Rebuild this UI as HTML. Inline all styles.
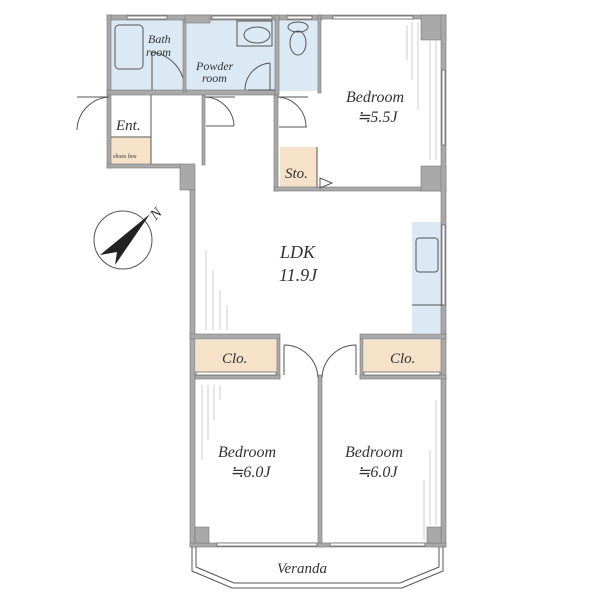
<!DOCTYPE html>
<html><head><meta charset="utf-8"><style>
html,body{margin:0;padding:0;background:#fff;width:600px;height:600px;overflow:hidden}
text{font-family:"Liberation Serif",serif;font-style:italic;fill:#333}
</style></head><body>
<svg width="600" height="600" viewBox="0 0 600 600" xmlns="http://www.w3.org/2000/svg">
<!-- room fills -->
<g stroke="none">
<rect x="111" y="20" width="72" height="71" fill="#dbe9f4"/>
<rect x="185" y="20" width="90" height="71" fill="#dbe9f4"/>
<rect x="279" y="20" width="41" height="71" fill="#dbe9f4"/>
<rect x="412" y="222" width="31" height="111" fill="#dbe9f4"/>
<rect x="111" y="137" width="40" height="27" fill="#f6e2c8"/>
<rect x="280" y="147" width="37" height="40" fill="#f6e2c8"/>
<rect x="196" y="340" width="81" height="35" fill="#f6e2c8"/>
<rect x="364" y="340" width="77" height="35" fill="#f6e2c8"/>
</g>
<!-- walls -->
<g fill="#a9a9a9" stroke="#777" stroke-width="0.6">
<rect x="107" y="15" width="215" height="5"/>
<rect x="320" y="15" width="126" height="4"/>
<rect x="107" y="15" width="4" height="153"/>
<rect x="107" y="90" width="170" height="5"/>
<rect x="183" y="20" width="3" height="72"/>
<rect x="275" y="15" width="4" height="80"/>
<rect x="318" y="15" width="3" height="78"/>
<rect x="107" y="164" width="75" height="4"/>
<rect x="180" y="164" width="15" height="26"/>
<rect x="202" y="95" width="3" height="70"/>
<rect x="274" y="95" width="4" height="96"/>
<rect x="274" y="187" width="172" height="4"/>
<rect x="421" y="15" width="25" height="25"/>
<rect x="421" y="166" width="25" height="25"/>
<rect x="441" y="15" width="5" height="532"/>
<rect x="190" y="190" width="5" height="357"/>
<rect x="190" y="334" width="90" height="5"/>
<rect x="360" y="334" width="86" height="5"/>
<rect x="277" y="339" width="3" height="40"/>
<rect x="360" y="339" width="3" height="40"/>
<rect x="195" y="375" width="85" height="4"/>
<rect x="360" y="375" width="86" height="4"/>
<rect x="318" y="375" width="4" height="172"/>
<rect x="190" y="543" width="256" height="4"/>
<rect x="195" y="527" width="14" height="16"/>
<rect x="427" y="527" width="14" height="16"/>
<rect x="185" y="15" width="25" height="8"/>
</g>
<!-- windows -->
<g fill="#fff" stroke="#666" stroke-width="0.8">
<rect x="127" y="16" width="40" height="3"/>
<rect x="212" y="16" width="60" height="3"/>
<rect x="287" y="16" width="25" height="3"/>
<rect x="333" y="16" width="80" height="3"/>
<rect x="442" y="70" width="3" height="75"/>
<rect x="442" y="225" width="3" height="80"/>
<rect x="217" y="543" width="100" height="3"/>
<rect x="330" y="543" width="95" height="3"/>
<rect x="196" y="372" width="80" height="3"/>
<rect x="364" y="372" width="76" height="3"/>
</g>
<!-- fixtures -->
<g fill="none" stroke="#555" stroke-width="1">
<rect x="115" y="25" width="28" height="44" rx="4"/>
<rect x="237" y="21" width="35" height="25"/>
<ellipse cx="257" cy="35" rx="13" ry="8"/>
<ellipse cx="298" cy="27" rx="10" ry="5"/>
<ellipse cx="298" cy="43" rx="8" ry="12"/>
<rect x="416" y="238" width="22" height="34" rx="3"/>
<line x1="412" y1="305" x2="443" y2="305"/>
<!-- doors -->
<path d="M152 52 v38 M152 52 A38 38 0 0 1 183 78"/>
<path d="M270 63 v27 M270 63 A27 27 0 0 0 245 90 M248 90 h27"/>
<path d="M109 97 h-32 M109 97 A34 34 0 0 0 77 130"/>
<path d="M205 97 h30 M205 97 A30 30 0 0 1 234 126 M206 126 h28" />
<path d="M278 97 h30 M278 97 A30 30 0 0 1 306 127 M279 127 h28"/>
<path d="M284 345 v30 M284 345 A34 34 0 0 1 318 378"/>
<path d="M356 345 v30 M356 345 A34 34 0 0 0 322 378"/>
<line x1="151" y1="95" x2="151" y2="164"/>
<line x1="111" y1="137" x2="151" y2="137"/>
<line x1="317" y1="147" x2="317" y2="187"/>
<path d="M320 178 l12 5 l-12 5z"/>
<!-- veranda -->
<path d="M192 547 v24 L232 588 H402 L443 571 V547"/>
<path d="M196 547 v20 L234 583 H400 L439 567 V547"/>
<!-- compass -->
<circle cx="123" cy="240" r="29"/>
</g>
<path d="M100 255 L150 214 L115 265 L117 252 Z" fill="#222"/>
<text x="148" y="218" font-size="15" font-style="normal" transform="rotate(-45 155 210)" fill="#222">N</text>
<!-- curtain lines -->
<g stroke="#ccc" stroke-width="1">
<line x1="407" y1="25" x2="407" y2="60"/><line x1="412" y1="22" x2="412" y2="80"/><line x1="418" y1="22" x2="418" y2="110"/><line x1="430" y1="40" x2="430" y2="160"/><line x1="436" y1="40" x2="436" y2="160"/>
<line x1="206" y1="250" x2="206" y2="330"/><line x1="213" y1="270" x2="213" y2="330"/><line x1="220" y1="290" x2="220" y2="330"/><line x1="227" y1="305" x2="227" y2="330"/>
<line x1="202" y1="385" x2="202" y2="460"/><line x1="208" y1="385" x2="208" y2="440"/><line x1="214" y1="385" x2="214" y2="420"/><line x1="220" y1="385" x2="220" y2="400"/>
<line x1="436" y1="400" x2="436" y2="525"/><line x1="430" y1="450" x2="430" y2="525"/><line x1="424" y1="480" x2="424" y2="540"/>
</g>
<!-- labels -->
<g font-size="12">
<text x="148" y="43">Bath</text><text x="146" y="56">room</text>
<text x="196" y="70">Powder</text><text x="202" y="82">room</text>
<text x="116" y="130" font-size="15">Ent.</text>
<text x="113" y="158" font-size="6">shoes box</text>
<text x="346" y="102" font-size="16">Bedroom</text>
<text x="357" y="122" font-size="16">≒5.5J</text>
<text x="285" y="178" font-size="15">Sto.</text>
<text x="280" y="258" font-size="18">LDK</text>
<text x="279" y="281" font-size="18">11.9J</text>
<text x="222" y="363" font-size="15">Clo.</text>
<text x="390" y="363" font-size="15">Clo.</text>
<text x="218" y="457" font-size="16">Bedroom</text>
<text x="230" y="477" font-size="16">≒6.0J</text>
<text x="345" y="457" font-size="16">Bedroom</text>
<text x="357" y="477" font-size="16">≒6.0J</text>
<text x="277" y="573" font-size="15">Veranda</text>
</g>
</svg>
</body></html>
